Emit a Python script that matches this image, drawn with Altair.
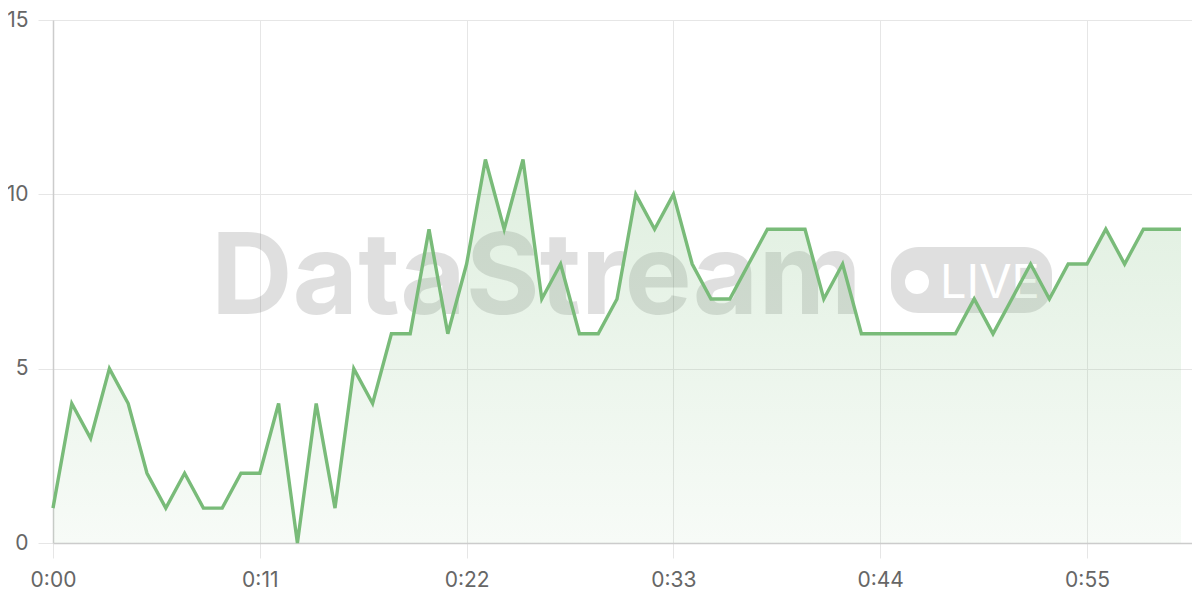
import altair as alt
import pandas as pd

# ---- data ----
seconds = list(range(61))
values = [1, 4, 3, 5, 4, 2, 1, 2, 1, 1,
          2, 2, 4, 0, 4, 1, 5, 4, 6, 6,
          9, 6, 8, 11, 9, 11, 7, 8, 6, 6,
          7, 10, 9, 10, 8, 7, 7, 8, 9, 9,
          9, 7, 8, 6, 6, 6, 6, 6, 6, 7,
          6, 7, 8, 7, 8, 8, 9, 8, 9, 9, 9]
x_ticks = [0, 11, 22, 33, 44, 55]
y_ticks = [0, 5, 10, 15]
watermark_text = ["DataStream"]
badge_text = ["LIVE"]

df = pd.DataFrame({"t": seconds, "v": values})

W, H = 1139, 523
LINE = "#79bb79"
GRID = "#e6e6e6"
LABEL = "#666666"
FONT = "Inter"

x_scale = alt.Scale(domain=[0, 60.585], nice=False, zero=False)
y_scale = alt.Scale(domain=[0, 15], nice=False)

x_axis = alt.Axis(
    values=x_ticks, title=None,
    labelExpr="'0:' + (datum.value < 10 ? '0' : '') + datum.value",
    grid=True, gridColor=GRID, gridWidth=1,
    ticks=True, tickColor=GRID, tickSize=15,
    domain=True, domainColor="#cccccc", domainWidth=1.5,
    labelFont=FONT, labelFontSize=21, labelColor=LABEL, labelPadding=11,
    labelFlush=False,
)
y_axis = alt.Axis(
    values=y_ticks, title=None,
    grid=True, gridColor=GRID, gridWidth=1,
    ticks=True, tickColor=GRID, tickSize=15,
    domain=True, domainColor="#cccccc", domainWidth=1.5,
    labelFont=FONT, labelFontSize=21, labelColor=LABEL, labelPadding=10,
    labelFlush=False,
)

base = alt.Chart(df)

axes_layer = base.mark_point(opacity=0).encode(
    x=alt.X("t:Q", scale=x_scale, axis=x_axis),
    y=alt.Y("v:Q", scale=y_scale, axis=y_axis),
)

wm = alt.Chart(pd.DataFrame({"txt": watermark_text})).mark_text(
    font=FONT, fontSize=113, fontWeight="bold", color="#000000", opacity=0.12,
    align="left", baseline="alphabetic",
).encode(text="txt:N", x=alt.value(158), y=alt.value(294))

pill = alt.Chart(pd.DataFrame({"txt": badge_text})).mark_rect(
    color="#000000", opacity=0.125, cornerRadius=27,
).encode(x=alt.value(838), x2=alt.value(999), y=alt.value(227), y2=alt.value(293))

dot = alt.Chart(pd.DataFrame({"txt": badge_text})).mark_point(
    shape="circle", filled=True, color="#ffffff", opacity=1, size=576,
).encode(x=alt.value(864), y=alt.value(262))

live = alt.Chart(pd.DataFrame({"txt": badge_text})).mark_text(
    font=FONT, fontSize=47, fontWeight="normal", color="#ffffff",
    align="left", baseline="alphabetic",
).encode(text="txt:N", x=alt.value(887), y=alt.value(278))

area = base.mark_area(
    color=alt.Gradient(
        gradient="linear", x1=1, x2=1, y1=0, y2=1,
        stops=[alt.GradientStop(color="rgba(121,187,121,0.24)", offset=0),
               alt.GradientStop(color="rgba(121,187,121,0.06)", offset=1)],
    ),
).encode(x=alt.X("t:Q", scale=x_scale), y=alt.Y("v:Q", scale=y_scale))

line = base.mark_line(color=LINE, strokeWidth=3.4, strokeJoin="miter").encode(
    x=alt.X("t:Q", scale=x_scale), y=alt.Y("v:Q", scale=y_scale)
)

chart = alt.layer(axes_layer, wm, pill, dot, live, area, line).properties(
    width=W, height=H,
    autosize=alt.AutoSizeParams(type="none"),
    padding={"left": 45, "top": 12, "right": 0, "bottom": 48},
).configure_view(strokeWidth=0).configure(background="#ffffff")

chart.save("out.html", embed_options={"renderer": "svg", "actions": False})
